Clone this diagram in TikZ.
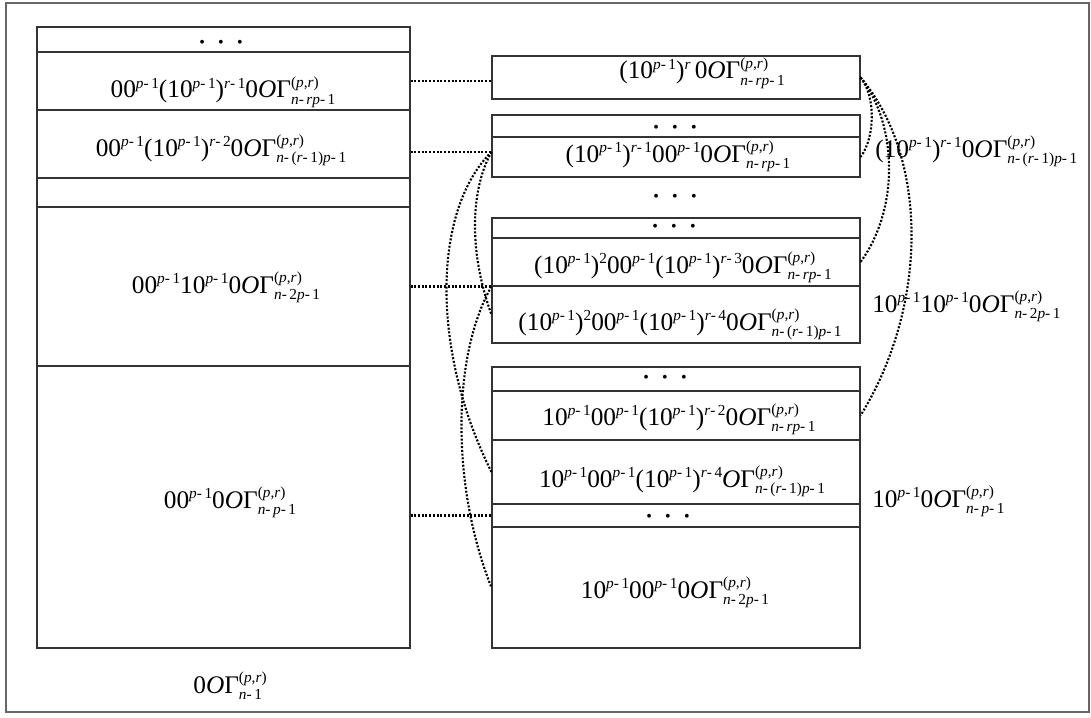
\documentclass[tikz,border=0pt]{standalone}
\usepackage{fontspec}
\setmainfont{Liberation Serif}
\usetikzlibrary{fit,calc}
\newcommand\SF{\fontsize{11.5}{13}\selectfont}
\newcommand\sps[1]{\raisebox{7pt}{\SF #1}}
\newcommand\gsps[1]{\raisebox{8pt}{\SF #1}}
\newcommand\sbs[1]{\raisebox{-5pt}{\SF #1}}
\newcommand\supsub[2]{\setbox0=\hbox{\gsps{#1}}\setbox2=\hbox{\sbs{#2}}\ifdim\wd0>\wd2 \rlap{\box2}\box0 \else \rlap{\box0}\box2 \fi}
\newcommand\It[1]{\textit{#1}}
\newcommand\pmo{\sps{\It{p}-\,1}}
\newcommand\rs[1]{\sps{\It{r}-\,#1}}
\newcommand\Gam[1]{Γ\supsub{(\It{p},\It{r})}{#1}}
\newcommand\tdots{{\fontsize{12}{14}\selectfont\textbullet\hspace{10pt}\textbullet\hspace{10pt}\textbullet}}
\begin{document}
\begin{tikzpicture}[x=0.75pt,y=-0.75pt,
  cell/.style={draw=black!80,line width=0.8pt,inner sep=0pt,fit={#1}},
  frm/.style={draw=black!60,line width=0.8pt,inner sep=0pt,fit={#1}},
  lbl/.style={inner sep=0pt,anchor=base,font=\fontsize{19}{22}\selectfont},
  rlbl/.style={lbl,anchor=base west},
  dotsn/.style={inner sep=0pt,anchor=center},
  dotline/.style={line width=1.6pt,dash pattern=on 1.5pt off 1.3pt,black}]
\useasboundingbox (0,0) rectangle (1091,717);
\node[frm={(6,3)(1089,712)}] (F) {};
% left column
\node[cell={(37,27)(410,52)}] (Ld) {};
\node[cell={(37,52)(410,110)}] (L1) {};
\node[cell={(37,110)(410,178)}] (L2) {};
\node[cell={(37,178)(410,207)}] (Le) {};
\node[cell={(37,207)(410,366)}] (L3) {};
\node[cell={(37,366)(410,648)}] (L4) {};
% middle boxes
\node[cell={(492,56)(860,99)}] (A) {};
\node[cell={(492,115)(860,137)}] (Bd) {};
\node[cell={(492,137)(860,177)}] (B2) {};
\node[cell={(492,218)(860,238)}] (Cd) {};
\node[cell={(492,238)(860,286)}] (C2) {};
\node[cell={(492,286)(860,343)}] (C3) {};
\node[cell={(492,367)(860,391)}] (Dd) {};
\node[cell={(492,391)(860,440)}] (D2) {};
\node[cell={(492,440)(860,504)}] (D3) {};
\node[cell={(492,504)(860,527)}] (D4) {};
\node[cell={(492,527)(860,648)}] (D5) {};
% texts left
\node[dotsn] (tLd) at (221,44) {\tdots};
\node[lbl] (tL1) at (223,98) {00\pmo(10\pmo)\rs{1}0\It{O}\Gam{\It{n}-\,\It{rp}-\,1}};
\node[lbl] (tL2) at (221,156) {00\pmo(10\pmo)\rs{2}0\It{O}\Gam{\It{n}-\,(\It{r}-\,1)\It{p}-\,1}};
\node[lbl] (tL3) at (226,293) {00\pmo10\pmo0\It{O}\Gam{\It{n}-\,2\It{p}-\,1}};
\node[lbl] (tL4) at (230,508) {00\pmo0\It{O}\Gam{\It{n}-\,\It{p}-\,1}};
\node[lbl] (tL5) at (230,693) {0\It{O}\Gam{\It{n}-\,1}};
% texts middle
\node[lbl] (tA) at (702,79) {(10\pmo)\sps{\It{r}}\,0\It{O}\Gam{\It{n}-\,\It{rp}-\,1}};
\node[dotsn] (tBd) at (675,129) {\tdots};
\node[lbl] (tB2) at (678,162) {(10\pmo)\rs{1}00\pmo0\It{O}\Gam{\It{n}-\,\It{rp}-\,1}};
\node[dotsn] (tMid) at (675,198) {\tdots};
\node[dotsn] (tCd) at (674,228) {\tdots};
\node[lbl] (tC2) at (683,273) {(10\pmo)\sps{2}00\pmo(10\pmo)\rs{3}0\It{O}\Gam{\It{n}-\,\It{rp}-\,1}};
\node[lbl] (tC3) at (680,330) {(10\pmo)\sps{2}00\pmo(10\pmo)\rs{4}0\It{O}\Gam{\It{n}-\,(\It{r}-\,1)\It{p}-\,1}};
\node[dotsn] (tDd) at (665,379) {\tdots};
\node[lbl] (tD2) at (679,425) {10\pmo00\pmo(10\pmo)\rs{2}0\It{O}\Gam{\It{n}-\,\It{rp}-\,1}};
\node[lbl] (tD3) at (682,487) {10\pmo00\pmo(10\pmo)\rs{4}\It{O}\Gam{\It{n}-\,(\It{r}-\,1)\It{p}-\,1}};
\node[dotsn] (tD4) at (668,518) {\tdots};
\node[lbl] (tD5) at (675,598) {10\pmo00\pmo0\It{O}\Gam{\It{n}-\,2\It{p}-\,1}};
% right labels
\node[rlbl] (R1) at (875,157) {(10\pmo)\rs{1}0\It{O}\Gam{\It{n}-\,(\It{r}-\,1)\It{p}-\,1}};
\node[rlbl] (R2) at (872,312) {10\pmo10\pmo0\It{O}\Gam{\It{n}-\,2\It{p}-\,1}};
\node[rlbl] (R3) at (872,507) {10\pmo0\It{O}\Gam{\It{n}-\,\It{p}-\,1}};
% connectors
\coordinate (bIn) at ($(B2.north west)!0.375!(B2.south west)$);
\draw[dotline] (L1.east) -- (L1.east -| A.west);
\draw[dotline] (bIn -| L2.east) -- (bIn);
\draw[dotline] (L3.east) -- (L3.east -| C2.south west);
\draw[dotline] (D4.west -| L4.east) -- (D4.west);
\draw[dotline] (A.east) .. controls +(15,18) and +(15,-20) .. (B2.east);
\draw[dotline] (A.east) .. controls +(36,45) and +(40,-55) .. (C2.east);
\draw[dotline] (A.east) .. controls +(68,80) and +(68,-110) .. (D2.east);
\draw[dotline] (bIn) .. controls +(-60,60) and +(-60,-120) .. (D3.west);
\draw[dotline] (bIn) .. controls +(-22,40) and +(-22,-60) .. (C3.west);
\draw[dotline] (C2.south west) .. controls +(-40,70) and +(-40,-100) .. (D5.west);
\end{tikzpicture}
\end{document}
